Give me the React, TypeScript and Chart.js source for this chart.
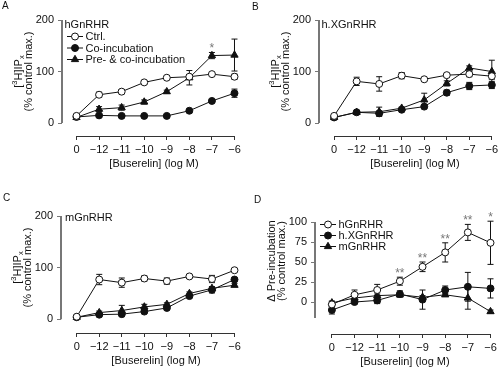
import React, { useEffect, useRef } from 'react';
import { Chart, registerables } from 'chart.js';

Chart.register(...registerables);

const FONT = 'Liberation Sans, Arial, Helvetica, sans-serif';

// ---------- data ----------
const xLabels = ['0', '−12', '−11', '−10', '−9', '−8', '−7', '−6'];
const yTicksIP = [0, 100, 200];
const yTicksDelta = [0, 25, 50, 75, 100];

const legendIP = ['Ctrl.', 'Co-incubation', 'Pre- & co-incubation'];
const legendDelta = ['hGnRHR', 'h.XGnRHR', 'mGnRHR'];

// Panel A: hGnRHR
const aCtrl = [14, 55, 61, 79, 88, 90, 95, 90];
const aCtrlErr = [2, 5, 4, 3, 2, 4, 2, 5];
const aCo = [12, 15, 14, 14, 14, 24, 43, 58];
const aCoErr = [1, 2, 1, 1, 1, 2, 3, 8];
const aPre = [11, 27, 30, 41, 61, 88, 131, 132];
const aPreErr = [1, 5, 5, 4, 3, 14, 6, 31];
const aSig = ['', '', '', '', '', '', '*', ''];

// Panel B: h.XGnRHR
const bCtrl = [14, 81, 76, 92, 85, 93, 95, 91];
const bCtrlErr = [2, 8, 14, 6, 2, 3, 5, 6];
const bCo = [11, 21, 19, 26, 32, 59, 72, 74];
const bCoErr = [1, 2, 4, 2, 4, 5, 7, 7];
const bPre = [11, 21, 22, 29, 45, 77, 107, 100];
const bPreErr = [1, 2, 9, 2, 13, 5, 4, 22];

// Panel C: mGnRHR
const cCtrl = [5, 77, 71, 79, 74, 83, 78, 95];
const cCtrlErr = [1, 10, 9, 5, 6, 2, 7, 2];
const cCo = [4, 9, 10, 15, 22, 45, 57, 77];
const cCoErr = [1, 2, 2, 2, 2, 3, 6, 3];
const cPre = [4, 13, 17, 24, 29, 50, 60, 66];
const cPreErr = [1, 3, 10, 5, 3, 3, 3, 3];

// Panel D: delta pre-incubation
const dH = [-3, 9, 15, 26, 44, 62, 87, 74];
const dHErr = [4, 6, 7, 5, 6, 12, 10, 27];
const dHX = [-10, 0, 2, 10, 3, 15, 19, 17];
const dHXErr = [5, 2, 4, 4, 12, 5, 18, 12];
const dM = [-1, 5, 8, 9, 6, 9, 5, -12];
const dMErr = [2, 2, 2, 2, 2, 2, 14, 2];
const dSig = ['', '', '', '**', '**', '**', '**', '*'];

// ---------- types ----------
type Seg = { t: string; k?: 'sup' | 'sub' };
type Series = { label: string; values: number[]; errors: number[]; marker: 'circle' | 'triangle'; fill: string };
type Panel = {
  key: string;
  letter: string;
  letterPos: [number, number];
  name?: string;
  namePos?: [number, number];
  left: number; top: number; w: number; h: number;
  area: { left: number; right: number; top: number; bottom: number };
  xMin: number; xMax: number; yMin: number; yMax: number;
  yFrame: [number, number];
  yTicks: number[];
  series: Series[];
  legendRows?: number[];
  sig?: string[];
  sigSeries?: number;
  yTitle: Seg[][];
  yTitleX: number[];
  yTitleY: number;
  xTitlePos: [number, number];
};

const ipTitle: Seg[][] = [
  [{ t: '[' }, { t: '3', k: 'sup' }, { t: 'H]IP' }, { t: 'x', k: 'sub' }],
  [{ t: '(% control max.)' }],
];
const deltaTitle: Seg[][] = [[{ t: 'Δ Pre-incubation' }], [{ t: '(% control max.)' }]];

const mk = (labels: string[], vals: number[][], errs: number[][]): Series[] => [
  { label: labels[0], values: vals[0], errors: errs[0], marker: 'circle', fill: '#ffffff' },
  { label: labels[1], values: vals[1], errors: errs[1], marker: 'circle', fill: '#111111' },
  { label: labels[2], values: vals[2], errors: errs[2], marker: 'triangle', fill: '#111111' },
];

const panels: Panel[] = [
  {
    key: 'A', letter: 'A', letterPos: [2, 8.5], name: 'hGnRHR', namePos: [64.5, 24.5],
    left: 0, top: 0, w: 250, h: 185,
    area: { left: 62, right: 237, top: 20, bottom: 136 },
    xMin: -0.642, xMax: 7.111, yMin: -25, yMax: 200, yFrame: [0, 200], yTicks: yTicksIP,
    series: mk(legendIP, [aCtrl, aCo, aPre], [aCtrlErr, aCoErr, aPreErr]),
    legendRows: [36.5, 48, 59.5], sig: aSig, sigSeries: 2,
    yTitle: ipTitle, yTitleX: [17.5, 27.5], yTitleY: 71.5, xTitlePos: [154, 164],
  },
  {
    key: 'B', letter: 'B', letterPos: [2, 9.5], name: 'h.XGnRHR', namePos: [71.5, 24.5],
    left: 250, top: 0, w: 249, h: 185,
    area: { left: 69, right: 246, top: 20, bottom: 136 },
    xMin: -0.671, xMax: 7.088, yMin: -25, yMax: 200, yFrame: [0, 200], yTicks: yTicksIP,
    series: mk(legendIP, [bCtrl, bCo, bPre], [bCtrlErr, bCoErr, bPreErr]),
    yTitle: ipTitle, yTitleX: [24.5, 34.5], yTitleY: 71.5, xTitlePos: [165, 164],
  },
  {
    key: 'C', letter: 'C', letterPos: [3, 16], name: 'mGnRHR', namePos: [65, 32.5],
    left: 0, top: 185, w: 250, h: 184,
    area: { left: 61, right: 237, top: 31, bottom: 148 },
    xMin: -0.697, xMax: 7.111, yMin: -26.5, yMax: 200, yFrame: [0, 200], yTicks: yTicksIP,
    series: mk(legendIP, [cCtrl, cCo, cPre], [cCtrlErr, cCoErr, cPreErr]),
    yTitle: ipTitle, yTitleX: [16.5, 26.5], yTitleY: 82.5, xTitlePos: [156, 176],
  },
  {
    key: 'D', letter: 'D', letterPos: [4, 17.5],
    left: 250, top: 185, w: 249, h: 184,
    area: { left: 65, right: 245, top: 37, bottom: 149 },
    xMin: -0.745, xMax: 7.145, yMin: -40, yMax: 100, yFrame: [-20, 100], yTicks: yTicksDelta,
    series: mk(legendDelta, [dH, dHX, dM], [dHErr, dHXErr, dMErr]),
    legendRows: [39.5, 50.5, 61.5], sig: dSig, sigSeries: 0,
    yTitle: deltaTitle, yTitleX: [21, 30.5], yTitleY: 76, xTitlePos: [155, 177],
  },
];

// ---------- drawing helpers ----------
function drawMarker(ctx: CanvasRenderingContext2D, s: Series, x: number, y: number) {
  ctx.save();
  ctx.lineWidth = 1;
  ctx.strokeStyle = '#111';
  ctx.fillStyle = s.fill;
  ctx.beginPath();
  if (s.marker === 'circle') {
    ctx.arc(x, y, 3.5, 0, Math.PI * 2);
  } else {
    const r = 4.2;
    for (let k = 0; k < 3; k++) {
      const a = (k * 2 * Math.PI) / 3;
      const px = x + Math.sin(a) * r;
      const py = y - Math.cos(a) * r;
      if (k === 0) ctx.moveTo(px, py);
      else ctx.lineTo(px, py);
    }
    ctx.closePath();
  }
  ctx.fill();
  ctx.stroke();
  ctx.restore();
}

function drawRich(ctx: CanvasRenderingContext2D, segs: Seg[], cx: number, cy: number) {
  ctx.save();
  ctx.translate(cx, cy);
  ctx.rotate(-Math.PI / 2);
  ctx.fillStyle = '#111';
  ctx.textBaseline = 'alphabetic';
  ctx.textAlign = 'left';
  const fontFor = (s: Seg) => (s.k ? `7.5px ${FONT}` : `11px ${FONT}`);
  let total = 0;
  segs.forEach((s) => {
    ctx.font = fontFor(s);
    total += ctx.measureText(s.t).width;
  });
  let x = -total / 2;
  segs.forEach((s) => {
    ctx.font = fontFor(s);
    const dy = s.k === 'sup' ? -4.5 : s.k === 'sub' ? 2.5 : 0;
    ctx.fillText(s.t, x, 4 + dy);
    x += ctx.measureText(s.t).width;
  });
  ctx.restore();
}

function panelPlugin(p: Panel) {
  return {
    id: 'panelDecor' + p.key,
    beforeDatasetsDraw(chart: any) {
      const ctx: CanvasRenderingContext2D = chart.ctx;
      const xs = chart.scales.x;
      const ys = chart.scales.y;
      ctx.save();
      ctx.strokeStyle = '#111';
      ctx.lineWidth = 1;
      p.series.forEach((s) =>
        s.values.forEach((v, i) => {
          const e = s.errors[i];
          if (!e) return;
          const x = xs.getPixelForValue(i);
          const y1 = ys.getPixelForValue(v + e);
          const y2 = ys.getPixelForValue(v - e);
          ctx.beginPath();
          ctx.moveTo(x, y1);
          ctx.lineTo(x, y2);
          ctx.moveTo(x - 3, y1);
          ctx.lineTo(x + 3, y1);
          ctx.moveTo(x - 3, y2);
          ctx.lineTo(x + 3, y2);
          ctx.stroke();
        })
      );
      ctx.restore();
    },
    afterDraw(chart: any) {
      const ctx: CanvasRenderingContext2D = chart.ctx;
      const xs = chart.scales.x;
      const ys = chart.scales.y;
      const ca = chart.chartArea;
      ctx.save();
      // range-frame y axis
      ctx.strokeStyle = '#777';
      ctx.lineWidth = 2;
      ctx.beginPath();
      ctx.moveTo(ca.left, ys.getPixelForValue(p.yFrame[0]));
      ctx.lineTo(ca.left, ys.getPixelForValue(p.yFrame[1]));
      ctx.stroke();
      // range-frame x axis
      ctx.strokeStyle = '#333';
      ctx.lineWidth = 1;
      ctx.beginPath();
      ctx.moveTo(xs.getPixelForValue(0), Math.round(ca.bottom) + 0.5);
      ctx.lineTo(xs.getPixelForValue(xLabels.length - 1), Math.round(ca.bottom) + 0.5);
      ctx.stroke();

      // panel letter
      ctx.fillStyle = '#111';
      ctx.font = `10px ${FONT}`;
      ctx.textAlign = 'left';
      ctx.textBaseline = 'alphabetic';
      ctx.fillText(p.letter, p.letterPos[0], p.letterPos[1]);

      // receptor name
      ctx.font = `11px ${FONT}`;
      ctx.textBaseline = 'middle';
      if (p.name && p.namePos) ctx.fillText(p.name, p.namePos[0], p.namePos[1]);

      // legend
      if (p.legendRows) {
        const ax = ca.left;
        p.series.forEach((s, k) => {
          const y = p.legendRows![k];
          ctx.strokeStyle = '#111';
          ctx.lineWidth = 1;
          ctx.beginPath();
          ctx.moveTo(ax + 5, y);
          ctx.lineTo(ax + 21, y);
          ctx.stroke();
          drawMarker(ctx, s, ax + 13, y);
          ctx.fillStyle = '#111';
          ctx.font = `11px ${FONT}`;
          ctx.textAlign = 'left';
          ctx.textBaseline = 'middle';
          ctx.fillText(s.label, ax + 23.5, y + 0.5);
        });
      }

      // significance marks
      if (p.sig && p.sigSeries !== undefined) {
        const s = p.series[p.sigSeries];
        ctx.fillStyle = '#777';
        ctx.font = `12px ${FONT}`;
        ctx.textAlign = 'center';
        ctx.textBaseline = 'alphabetic';
        p.sig.forEach((m, i) => {
          if (!m) return;
          const x = xs.getPixelForValue(i);
          const y = ys.getPixelForValue(s.values[i] + s.errors[i]) - 1;
          ctx.fillText(m, x, y + 1);
        });
      }

      // y title
      p.yTitle.forEach((segs, k) => drawRich(ctx, segs, p.yTitleX[k], p.yTitleY));

      // x title
      ctx.fillStyle = '#111';
      ctx.font = `11px ${FONT}`;
      ctx.textAlign = 'center';
      ctx.textBaseline = 'middle';
      ctx.fillText('[Buserelin] (log M)', p.xTitlePos[0], p.xTitlePos[1]);
      ctx.restore();
    },
  };
}

function makeConfig(p: Panel): any {
  return {
    type: 'line',
    data: {
      datasets: p.series.map((s) => ({
        label: s.label,
        data: s.values.map((v, i) => ({ x: i, y: v })),
        borderColor: '#111',
        borderWidth: 1,
        pointStyle: s.marker,
        pointRadius: s.marker === 'triangle' ? 4.2 : 3.5,
        pointBackgroundColor: s.fill,
        pointBorderColor: '#111',
        pointBorderWidth: 1,
        fill: false,
        tension: 0,
        clip: false,
      })),
    },
    options: {
      responsive: false,
      animation: false,
      devicePixelRatio: 1,
      events: [],
      layout: { padding: { left: 0, top: p.area.top, right: p.w - p.area.right, bottom: 0 } },
      plugins: { legend: { display: false }, tooltip: { enabled: false }, title: { display: false } },
      scales: {
        x: {
          type: 'linear',
          position: 'bottom',
          min: p.xMin,
          max: p.xMax,
          afterBuildTicks: (ax: any) => {
            ax.ticks = xLabels.map((_, i) => ({ value: i }));
          },
          afterFit: (ax: any) => {
            ax.height = p.h - p.area.bottom;
            ax.paddingLeft = 0;
            ax.paddingRight = 0;
          },
          ticks: {
            autoSkip: false,
            maxRotation: 0,
            minRotation: 0,
            padding: 3,
            color: '#111',
            font: { family: FONT, size: 11 },
            callback: (v: number) => xLabels[Math.round(v)] ?? '',
          },
          grid: { display: true, drawOnChartArea: false, drawTicks: true, tickLength: 4, tickColor: '#333', tickWidth: 1 },
          border: { display: false },
        },
        y: {
          type: 'linear',
          position: 'left',
          min: p.yMin,
          max: p.yMax,
          afterBuildTicks: (ax: any) => {
            ax.ticks = p.yTicks.map((v) => ({ value: v }));
          },
          afterFit: (ax: any) => {
            ax.width = p.area.left;
            ax.paddingTop = 0;
            ax.paddingBottom = 0;
          },
          ticks: {
            padding: 4,
            color: '#111',
            font: { family: FONT, size: 11 },
            callback: (v: number) => String(v),
          },
          grid: { display: true, drawOnChartArea: false, drawTicks: true, tickLength: 4, tickColor: '#777', tickWidth: 1 },
          border: { display: false },
        },
      },
    },
    plugins: [panelPlugin(p)],
  };
}

function PanelChart({ p }: { p: Panel }) {
  const ref = useRef<HTMLCanvasElement | null>(null);
  useEffect(() => {
    if (!ref.current) return;
    const chart = new Chart(ref.current, makeConfig(p));
    return () => chart.destroy();
  }, [p]);
  return (
    <canvas
      ref={ref}
      width={p.w}
      height={p.h}
      style={{ position: 'absolute', left: p.left, top: p.top, width: p.w, height: p.h }}
    />
  );
}

export default function App() {
  return (
    <div
      style={{
        position: 'absolute',
        left: 0,
        top: 0,
        width: 499,
        height: 369,
        overflow: 'hidden',
        background: '#ffffff',
      }}
    >
      {panels.map((p) => (
        <PanelChart key={p.key} p={p} />
      ))}
    </div>
  );
}
